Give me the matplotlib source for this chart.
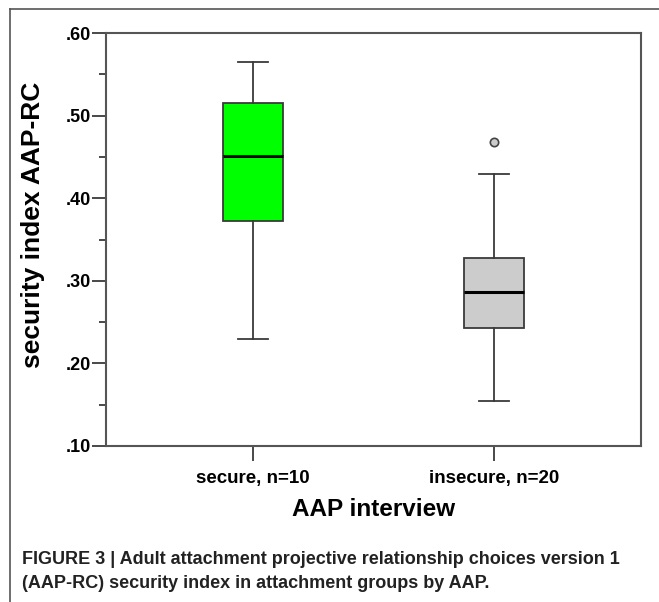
import matplotlib
matplotlib.use("Agg")
import matplotlib.pyplot as plt
from matplotlib.lines import Line2D

# groups and box statistics
groups = ["secure, n=10", "insecure, n=20"]
box_colors = ["#00ff00", "#cccccc"]
whisker_low = [0.229, 0.154]
q1 = [0.373, 0.243]
median = [0.451, 0.286]
q3 = [0.515, 0.328]
whisker_high = [0.565, 0.429]
outliers = [[], [0.468]]

yticks = [0.1, 0.2, 0.3, 0.4, 0.5, 0.6]
ytick_labels = [".10", ".20", ".30", ".40", ".50", ".60"]
minor_yticks = [0.15, 0.25, 0.35, 0.45, 0.55]

plt.rcParams["font.family"] = ["Liberation Sans", "DejaVu Sans"]

W, H = 659, 602
fig = plt.figure(figsize=(W / 100, H / 100), dpi=100)
ax = fig.add_axes([106 / W, 1 - 446 / H, (641 - 106) / W, (446 - 33) / H])

stats = []
for i, g in enumerate(groups):
    stats.append(dict(label=g, whislo=whisker_low[i], q1=q1[i], med=median[i],
                      q3=q3[i], whishi=whisker_high[i], fliers=outliers[i]))

edge = "#3a3a3a"
bp = ax.bxp(stats, positions=[1, 2], widths=0.25, patch_artist=True,
            boxprops=dict(edgecolor=edge, linewidth=1.3),
            medianprops=dict(color="black", linewidth=2.2),
            whiskerprops=dict(color=edge, linewidth=1.3),
            capprops=dict(color=edge, linewidth=1.3),
            capwidths=0.125,
            flierprops=dict(marker="o", markersize=6, markerfacecolor="#cccccc",
                            markeredgecolor="#444444", markeredgewidth=1.2))
for patch, c in zip(bp["boxes"], box_colors):
    patch.set_facecolor(c)

ax.set_xlim(0.3875, 2.6125)
ax.set_ylim(0.1, 0.6)
ax.set_yticks(yticks)
ax.set_yticklabels(ytick_labels, fontsize=13, fontweight="bold")
ax.set_yticks(minor_yticks, minor=True)
ax.set_xticks([1, 2])
ax.set_xticklabels(groups, fontsize=13.5, fontweight="bold")
ax.tick_params(axis="y", which="major", length=10, width=1.3, color=edge, pad=1)
ax.tick_params(axis="y", which="minor", length=5, width=1.3, color=edge)
ax.tick_params(axis="x", length=11, width=1.3, color=edge, pad=6, direction="out")
for s in ax.spines.values():
    s.set_color("#555555")
    s.set_linewidth(1.5)

ax.set_ylabel("security index AAP-RC", fontsize=19, fontweight="bold",
              va="center", ha="center")
ax.yaxis.set_label_coords(-0.136, 0.535)
ax.set_xlabel("AAP interview", fontsize=17.5, fontweight="bold", labelpad=8)

# outer frame (top and left edges)
fig.add_artist(Line2D([9.5 / W, 1.0], [1 - 9 / H, 1 - 9 / H], color="#555555", lw=1.2))
fig.add_artist(Line2D([9.5 / W, 9.5 / W], [0, 1 - 9 / H], color="#555555", lw=1.2))

caption = ("FIGURE 3 | Adult attachment projective relationship choices version 1\n"
           "(AAP-RC) security index in attachment groups by AAP.")
fig.text(22 / W, 1 - 551 / H, caption, fontsize=13, fontweight="bold",
         family=["Liberation Sans Narrow", "Liberation Sans", "DejaVu Sans"],
         color="#222222", va="top", ha="left", linespacing=1.55)

fig.savefig("out.png", dpi=100)
